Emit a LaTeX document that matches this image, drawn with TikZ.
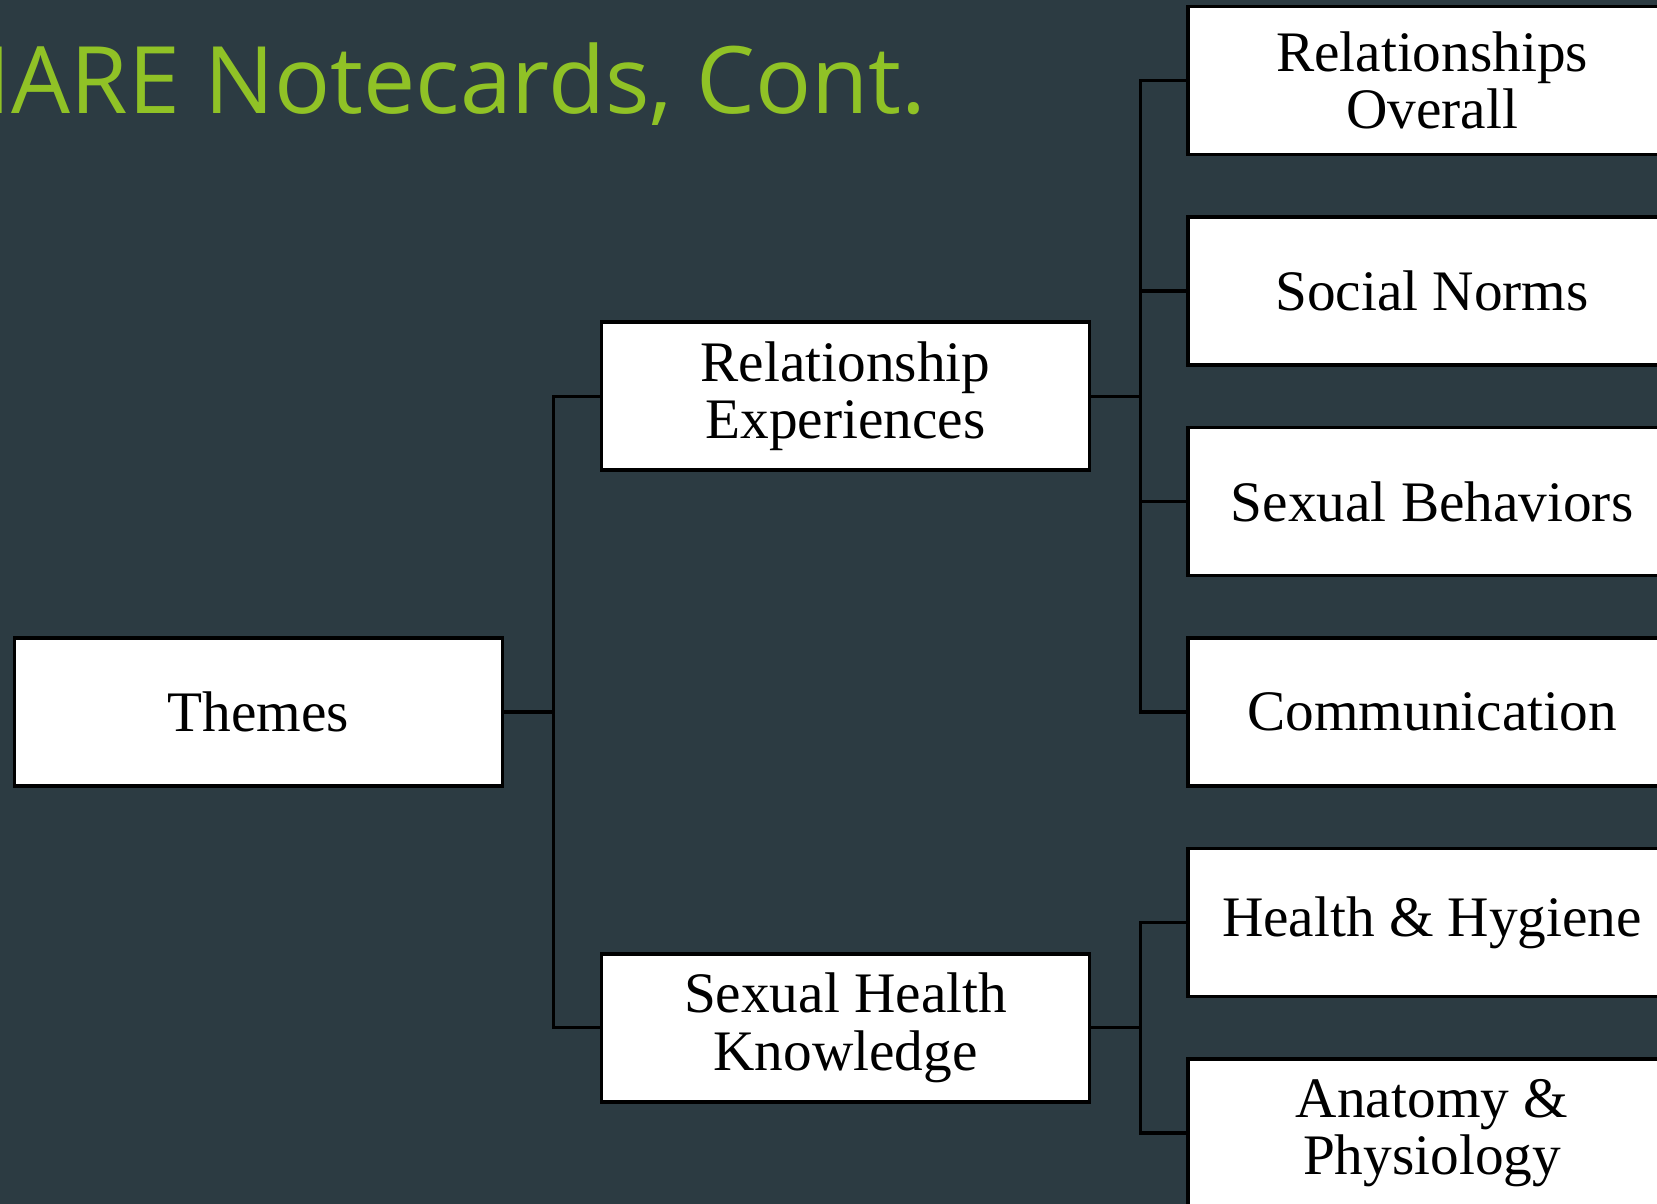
\documentclass[tikz,border=0pt]{standalone}
\usepackage{fontspec}
\setmainfont{Liberation Serif}
\newfontfamily\titlefont{Open Sans}
\usetikzlibrary{positioning,calc}
\definecolor{slidebg}{RGB}{44,59,66}
\definecolor{titlegreen}{RGB}{144,194,38}

\begin{document}
\begin{tikzpicture}[
  block/.style={draw=black, fill=white, line width=1pt, align=center, minimum height=14.8mm, minimum width=48.8mm, inner sep=0pt, font=\fontsize{16.3}{16.4}\selectfont},
  link/.style={draw=black, line width=0.9pt}
]
\useasboundingbox (0,0) rectangle (16.57,-12.04);
\clip (0,0) rectangle (16.57,-12.04);
\fill[slidebg] (0,0) rectangle (16.57,-12.04);

% slide title, cut off at the left edge
\node[anchor=base west, inner sep=0pt, text=titlegreen, font=\titlefont\fontsize{26.5}{26.5}\selectfont] (title) at (0.11,-1.14) {\llap{H}ARE Notecards, Cont.};

\node[block] (themes) at (2.585,-7.12) {Themes};
\node[block, right=6.82cm of themes] (comm) {Communication};
\node[block, above=5.9mm of comm] (sb) {Sexual Behaviors};
\node[block, above=5.9mm of sb] (sn) {Social Norms};
\node[block, above=5.9mm of sn] (ro) {Relationships\\Overall};
\node[block, below=5.9mm of comm] (hh) {Health \& Hygiene};
\node[block, below=5.9mm of hh] (ap) {Anatomy \&\\Physiology};

\coordinate (remid) at ($(sn.west)!0.5!(sb.west)$);
\coordinate (shkmid) at ($(hh.west)!0.5!(ap.west)$);
\node[block, left=0.95cm of remid] (re) {Relationship\\Experiences};
\node[block, left=0.95cm of shkmid] (shk) {Sexual Health\\Knowledge};

\draw[link] (themes.east) -- ++(0.49,0) |- (re.west);
\draw[link] (themes.east) -- ++(0.49,0) |- (shk.west);
\foreach \c in {ro,sn,sb,comm}
  \draw[link] (re.east) -- ++(0.49,0) |- (\c.west);
\foreach \c in {hh,ap}
  \draw[link] (shk.east) -- ++(0.49,0) |- (\c.west);

\end{tikzpicture}
\end{document}
